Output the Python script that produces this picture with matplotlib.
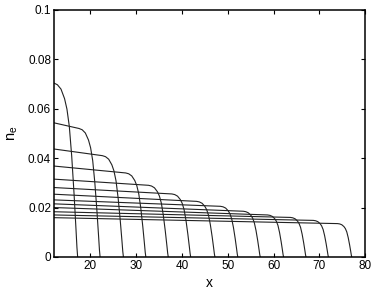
import numpy as np
import matplotlib
matplotlib.use('Agg')
import matplotlib.pyplot as plt

plt.rcParams['font.family'] = ['Liberation Sans', 'DejaVu Sans']
plt.rcParams['mathtext.default'] = 'regular'

# Electron density profiles, one per time step.
x_start = 12.0
front_x = [17.2, 22.1, 27.2, 32.1, 37.0, 41.9, 47.2, 52.2, 57.1, 62.2, 67.1, 72.0, 77.1]
n_left = [0.0704, 0.0543, 0.0437, 0.0368, 0.0315, 0.0281, 0.0254,
          0.0231, 0.0215, 0.0200, 0.0183, 0.0170, 0.0159]
n_knee = [0.0704, 0.0520, 0.0410, 0.0340, 0.0290, 0.0255, 0.0225,
          0.0205, 0.0185, 0.0170, 0.0160, 0.0148, 0.0135]
knee_width = [5.2, 4.6, 4.6, 4.4, 4.3, 4.1, 4.0, 3.8, 3.7, 3.5, 3.4, 3.3, 3.1]

# Front shape (fraction of the knee level vs. distance to the front in knee widths).
shape_u = [-1.0, -0.85, -0.7, -0.55, -0.45, -0.35, -0.25, -0.15, -0.07, -0.03, 0.0]
shape_f = [1.0, 0.99, 0.965, 0.91, 0.85, 0.75, 0.58, 0.36, 0.16, 0.055, 0.0]

fig = plt.figure(figsize=(3.74, 2.91), dpi=100)
ax = fig.add_axes([0.144, 0.117, 0.832, 0.849])

for xf, nl, nk, w in zip(front_x, n_left, n_knee, knee_width):
    xs = [x_start] + [xf + u * w for u in shape_u]
    ys = [nl] + [nk * f for f in shape_f]
    ax.plot(xs, ys, color='#222222', lw=0.8)

ax.set_xlim(12, 80)
ax.set_ylim(0, 0.1)
ax.set_xticks([20, 30, 40, 50, 60, 70, 80])
ax.set_yticks([0, 0.02, 0.04, 0.06, 0.08, 0.1])
ax.set_yticklabels(['0', '0.02', '0.04', '0.06', '0.08', '0.1'])
ax.tick_params(direction='in', length=3, width=0.8, top=True, right=True,
               labelsize=8.5, pad=2)
for s in ax.spines.values():
    s.set_linewidth(1.1)

ax.set_xlabel('x', fontsize=10, labelpad=3)
ax.set_ylabel('n$_e$', fontsize=10.5, labelpad=6)

fig.savefig('out.png', dpi=100)
